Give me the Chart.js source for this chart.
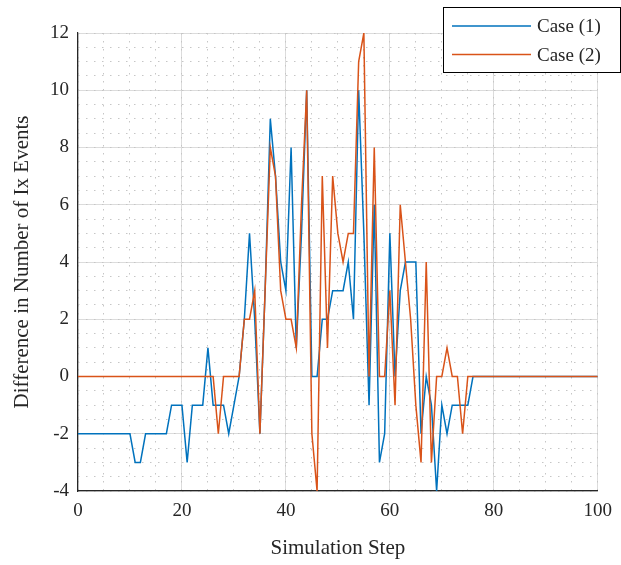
<!DOCTYPE html>
<html>
<head>
<meta charset="utf-8">
<title>Difference in Number of Ix Events</title>
<script src="https://cdn.jsdelivr.net/npm/chart.js@4.4.1/dist/chart.umd.min.js"></script>
<style>
    html, body { margin: 0; padding: 0; background: #ffffff; }
    #wrap { width: 621px; height: 565px; }
</style>
</head>
<body>
<div id="wrap"><canvas id="ix-chart" width="621" height="565"></canvas></div>
<script>
    'use strict';

    // simulation steps 0..100
    var steps = [];
    for (var s = 0; s <= 100; s++) steps.push(s);

    var case1 = [
        -2, -2, -2, -2, -2, -2, -2, -2, -2, -2,
        -2, -3, -3, -2, -2, -2, -2, -2, -1, -1,
        -1, -3, -1, -1, -1,  1, -1, -1, -1, -2,
        -1,  0,  2,  5,  2, -2,  3,  9,  7,  4,
         3,  8,  1,  5, 10,  0,  0,  2,  2,  3,
         3,  3,  4,  2, 10,  5, -1,  6, -3, -2,
         5,  0,  3,  4,  4,  4, -2,  0, -1, -4,
        -1, -2, -1, -1, -1, -1,  0,  0,  0,  0,
         0,  0,  0,  0,  0,  0,  0,  0,  0,  0,
         0,  0,  0,  0,  0,  0,  0,  0,  0,  0,
         0
    ];

    var case2 = [
         0,  0,  0,  0,  0,  0,  0,  0,  0,  0,
         0,  0,  0,  0,  0,  0,  0,  0,  0,  0,
         0,  0,  0,  0,  0,  0,  0, -2,  0,  0,
         0,  0,  2,  2,  3, -2,  3,  8,  7,  3,
         2,  2,  1,  6, 10, -2, -4,  7,  1,  7,
         5,  4,  5,  5, 11, 12,  0,  8,  0,  0,
         3, -1,  6,  4,  2, -1, -3,  4, -3,  0,
         0,  1,  0,  0, -2,  0,  0,  0,  0,  0,
         0,  0,  0,  0,  0,  0,  0,  0,  0,  0,
         0,  0,  0,  0,  0,  0,  0,  0,  0,  0,
         0
    ];

    var seriesNames = ['Case (1)', 'Case (2)'];
    var xTicks = [0, 20, 40, 60, 80, 100];
    var yTicks = [-4, -2, 0, 2, 4, 6, 8, 10, 12];

    var colors = {
        blue: '#0072bd',
        orange: '#d95319',
        axis: '#262626',
        grid: '#dcdcdc',
        minor: '#c6c6c6',
        text: '#262626'
    };
    var fontFamily = '"Liberation Serif", "Times New Roman", serif';

    function toPoints(values) {
        return steps.map(function(x, i) {
            return { x: x, y: values[i] };
        });
    }

    // boxed legend in the top right corner, like the original figure
    var boxLegend = {
        id: 'boxLegend',
        afterDraw: function(chart) {
            var ctx = chart.ctx;
            var left = 443.5, top = 7.5, w = 177, h = 65;
            ctx.save();
            ctx.fillStyle = '#ffffff';
            ctx.fillRect(left, top, w, h);
            ctx.strokeStyle = '#000000';
            ctx.lineWidth = 1;
            ctx.strokeRect(left, top, w, h);
            ctx.font = '19px ' + fontFamily;
            ctx.textBaseline = 'middle';
            ctx.textAlign = 'left';
            chart.data.datasets.forEach(function(ds, i) {
                var y = 26 + i * 28.6;
                ctx.strokeStyle = ds.borderColor;
                ctx.lineWidth = 1.5;
                ctx.beginPath();
                ctx.moveTo(452, y);
                ctx.lineTo(531, y);
                ctx.stroke();
                ctx.fillStyle = colors.text;
                ctx.fillText(ds.label, 537, y + 1);
            });
            ctx.restore();
        }
    };

    new Chart(document.getElementById('ix-chart'), {
        type: 'line',
        data: {
            datasets: [{
                label: seriesNames[0],
                data: toPoints(case1),
                borderColor: colors.blue,
                backgroundColor: colors.blue,
                borderWidth: 1.5,
                pointRadius: 0,
                tension: 0,
                order: 1
            }, {
                label: seriesNames[1],
                data: toPoints(case2),
                borderColor: colors.orange,
                backgroundColor: colors.orange,
                borderWidth: 1.5,
                pointRadius: 0,
                tension: 0,
                order: 0
            }]
        },
        options: {
            responsive: false,
            animation: false,
            layout: { padding: 0 },
            plugins: {
                legend: { display: false },
                tooltip: { enabled: false }
            },
            scales: {
                x: {
                    type: 'linear',
                    position: 'bottom',
                    min: 0,
                    max: 100,
                    afterBuildTicks: function(axis) {
                        axis.ticks = xTicks.map(function(v) { return { value: v }; });
                    },
                    afterFit: function(axis) { axis.height = 74; },
                    grid: { color: colors.grid, lineWidth: 1, drawTicks: false },
                    border: { color: colors.axis, width: 1.2 },
                    ticks: {
                        color: colors.text,
                        padding: 9,
                        maxRotation: 0,
                        font: { family: fontFamily, size: 19 }
                    },
                    title: {
                        display: true,
                        text: 'Simulation Step',
                        color: colors.text,
                        padding: { top: 0, bottom: 4 },
                        font: { family: fontFamily, size: 21 }
                    }
                },
                y: {
                    type: 'linear',
                    position: 'left',
                    min: -4,
                    max: 12,
                    afterBuildTicks: function(axis) {
                        axis.ticks = yTicks.map(function(v) { return { value: v }; });
                    },
                    afterFit: function(axis) { axis.width = 78; },
                    grid: { color: colors.grid, lineWidth: 1, drawTicks: false },
                    border: { color: colors.axis, width: 1.2 },
                    ticks: {
                        color: colors.text,
                        padding: 9,
                        font: { family: fontFamily, size: 19 }
                    },
                    title: {
                        display: true,
                        text: 'Difference in Number of Ix Events',
                        color: colors.text,
                        padding: { top: 10, bottom: 0 },
                        font: { family: fontFamily, size: 21 }
                    }
                },
                xMinor: {
                    type: 'linear',
                    position: 'top',
                    min: 0,
                    max: 100,
                    afterFit: function(axis) { axis.height = 33; },
                    ticks: { display: false, stepSize: 5 },
                    grid: { color: colors.minor, lineWidth: 1, drawTicks: false, z: -1 },
                    border: { display: false, dash: [1.5, 6.5] }
                },
                yMinor: {
                    type: 'linear',
                    position: 'right',
                    min: -4,
                    max: 12,
                    afterFit: function(axis) { axis.width = 23; },
                    ticks: { display: false, stepSize: 0.5 },
                    grid: { color: colors.minor, lineWidth: 1, drawTicks: false, z: -1 },
                    border: { display: false, dash: [1.5, 6.5] }
                }
            }
        },
        plugins: [boxLegend]
    });
</script>
</body>
</html>
